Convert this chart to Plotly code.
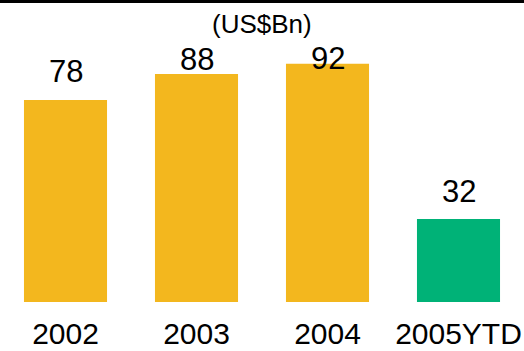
import plotly.graph_objects as go

# Annual amounts, US$ billions
years = ["2002", "2003", "2004", "2005YTD"]
amounts = [78, 88, 92, 32]
bar_colors = ["#F3B71E", "#F3B71E", "#F3B71E", "#00B277"]

# vertical offsets (px) of the value labels above each bar top
label_shift = [28, 15, 5, 28]

W, H = 524, 351
M_TOP, M_BOT = 40, 49
plot_h = H - M_TOP - M_BOT
px_per_unit = 2.59
y_max = plot_h / px_per_unit

fig = go.Figure(
    go.Bar(
        x=years,
        y=amounts,
        marker=dict(color=bar_colors, line=dict(width=0)),
        hoverinfo="skip",
    )
)

for i, (val, dy) in enumerate(zip(amounts, label_shift)):
    fig.add_annotation(
        x=i, y=val, xref="x", yref="y",
        text=str(val), showarrow=False,
        yanchor="middle", yshift=dy,
        font=dict(family="Liberation Sans, Arial", size=31, color="black"),
    )

# unit caption, centred 24 px below the top edge
fig.add_annotation(
    x=0.5, xref="paper", y=(H - M_BOT - 24) / plot_h, yref="paper",
    text="(US$Bn)", showarrow=False, yanchor="middle",
    font=dict(family="Liberation Sans, Arial", size=26, color="black"),
)

# black rule across the top edge
fig.add_shape(
    type="rect", xref="paper", yref="paper",
    x0=0, x1=1,
    y0=(H - M_BOT - 3) / plot_h, y1=(H - M_BOT + 1) / plot_h,
    fillcolor="black", line=dict(width=0),
)

fig.update_layout(
    width=W, height=H,
    margin=dict(l=0, r=0, t=M_TOP, b=M_BOT, pad=0, autoexpand=False),
    paper_bgcolor="white", plot_bgcolor="white",
    bargap=0.366,
    showlegend=False,
    xaxis=dict(
        type="category", range=[-0.5, 3.5], automargin=False,
        showline=False, showgrid=False, zeroline=False,
        ticks="", ticklabelstandoff=11,
        tickfont=dict(family="Liberation Sans, Arial", size=30, color="black"),
    ),
    yaxis=dict(range=[0, y_max], visible=False, automargin=False),
)

fig.write_html("out.html")
